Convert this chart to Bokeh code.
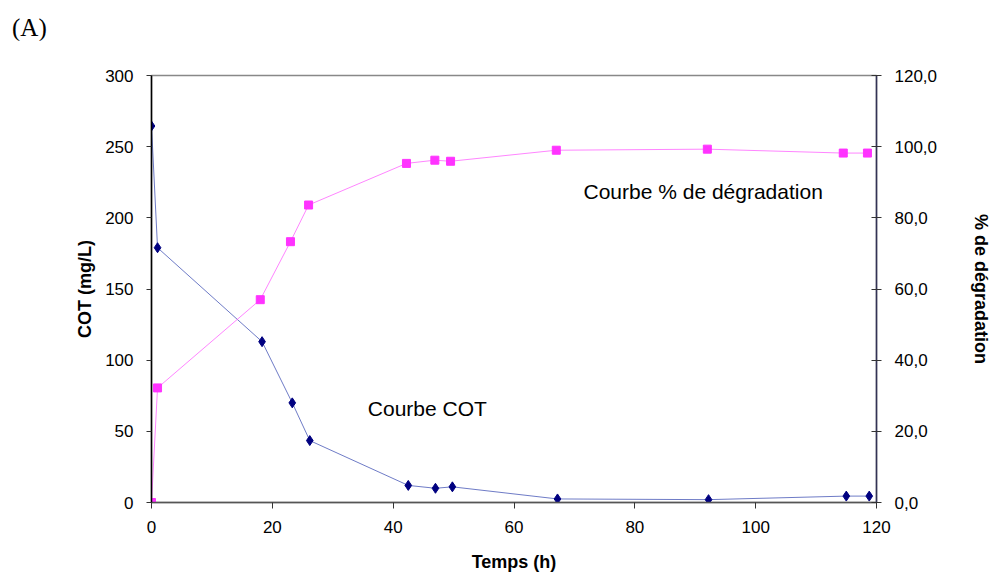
from bokeh.plotting import figure
from bokeh.models import Range1d, LinearAxis, Label, CustomJSTickFormatter, FixedTicker, Div
from bokeh.layouts import column
from bokeh.embed import file_html
from bokeh.resources import INLINE

# Data
temps_cot = [0, 1, 18.3, 23.3, 26.2, 42.5, 47, 49.8, 67.2, 92.2, 115, 118.8]
cot = [264.5, 179, 113, 70, 43.5, 12, 10, 11, 2.5, 2, 4.5, 4.5]
temps_deg = [0, 1, 18, 23, 26, 42.2, 46.9, 49.5, 67, 92, 114.5, 118.5]
degradation = [0, 32.2, 57, 73.3, 83.6, 95.3, 96.2, 95.9, 99.0, 99.3, 98.2, 98.2]

x_ticks = [0, 20, 40, 60, 80, 100, 120]
left_ticks = [0, 50, 100, 150, 200, 250, 300]
right_ticks = [0, 20, 40, 60, 80, 100, 120]

FONT = "Liberation Sans"

tag = Div(text="(A)", width=991, height=30,
          styles={"font-family": "Liberation Serif", "font-size": "25px",
                  "line-height": "25px", "padding-left": "7px", "padding-top": "10px",
                  "box-sizing": "border-box", "color": "black"})

p = figure(frame_width=725, frame_height=427, output_backend="svg", toolbar_location=None,
           x_range=Range1d(0, 120), y_range=Range1d(0, 300),
           min_border_left=151, min_border_right=115, min_border_top=35, min_border_bottom=71)
p.extra_y_ranges = {"deg": Range1d(0, 120)}

p.grid.visible = False
p.outline_line_color = "#888888"
p.outline_line_width = 1.5

# x axis
xa = p.xaxis[0]
xa.ticker = FixedTicker(ticks=x_ticks)
xa.axis_label = "Temps (h)"
xa.axis_label_text_font = FONT
xa.axis_label_text_font_style = "bold"
xa.axis_label_text_font_size = "18px"
xa.axis_label_text_color = "black"
xa.axis_label_standoff = 16
xa.major_label_text_font = FONT
xa.major_label_text_font_size = "17px"
xa.major_label_text_color = "black"
xa.major_label_standoff = 12
xa.major_tick_in = 0
xa.major_tick_out = 6
xa.major_tick_line_color = "#333333"
xa.minor_tick_line_color = None
xa.axis_line_color = "#555555"
xa.axis_line_width = 1.5

# left axis
ya = p.yaxis[0]
ya.ticker = FixedTicker(ticks=left_ticks)
ya.axis_label = "COT (mg/L)"
ya.axis_label_text_font = FONT
ya.axis_label_text_font_style = "bold"
ya.axis_label_text_font_size = "18px"
ya.axis_label_text_color = "black"
ya.axis_label_standoff = 7
ya.major_label_text_font = FONT
ya.major_label_text_font_size = "17px"
ya.major_label_text_color = "black"
ya.major_label_standoff = 13
ya.major_tick_in = 0
ya.major_tick_out = 5
ya.major_tick_line_color = "#333333"
ya.minor_tick_line_color = None
ya.axis_line_color = "black"
ya.axis_line_width = 1.5

# right axis
ra = LinearAxis(y_range_name="deg", ticker=FixedTicker(ticks=right_ticks))
ra.formatter = CustomJSTickFormatter(code="return tick.toFixed(1).replace('.', ',');")
ra.axis_label = "% de dégradation"
ra.axis_label_text_font = FONT
ra.axis_label_text_font_style = "bold"
ra.axis_label_text_font_size = "18px"
ra.axis_label_text_color = "black"
ra.axis_label_standoff = 31
ra.major_label_text_font = FONT
ra.major_label_text_font_size = "17px"
ra.major_label_text_color = "black"
ra.major_label_standoff = 13
ra.major_tick_in = 5
ra.major_tick_out = 5
ra.major_tick_line_color = "#333333"
ra.minor_tick_line_color = None
ra.axis_line_color = "#333355"
ra.axis_line_width = 1.5
p.add_layout(ra, "right")

# COT series
p.line(temps_cot, cot, line_color="#4a5ab8", line_width=1, line_alpha=0.8)
p.scatter(temps_cot, cot, marker="diamond", size=10, fill_color="#000080", line_color="#000080")

# Degradation series
p.line(temps_deg, degradation, y_range_name="deg", line_color="#ff70ff", line_width=1, line_alpha=0.85)
p.scatter(temps_deg, degradation, y_range_name="deg", marker="square", size=8,
          fill_color="#ff33ff", line_color="#ff33ff")

p.add_layout(Label(x=71.5, y=218.5, text="Courbe % de dégradation", text_font=FONT,
                   text_font_size="21px", text_baseline="middle", text_color="black"))
p.add_layout(Label(x=35.8, y=66, text="Courbe COT", text_font=FONT,
                   text_font_size="21px", text_baseline="middle", text_color="black"))

layout = column(tag, p, spacing=0)

open("out.html", "w").write(file_html(layout, INLINE))
